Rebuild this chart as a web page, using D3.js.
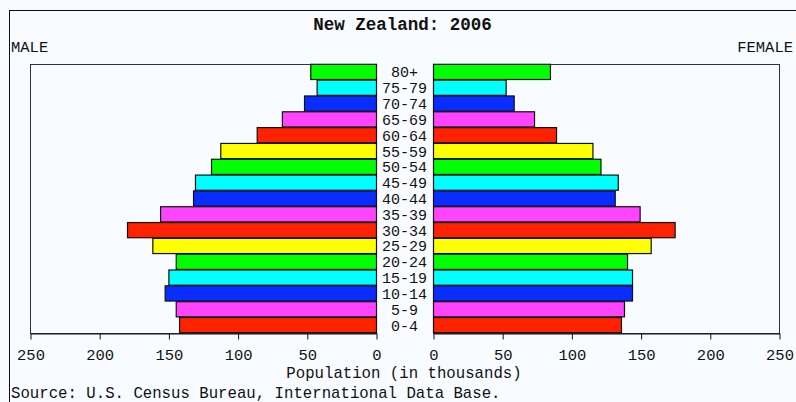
<!DOCTYPE html>
<html>
<head>
<meta charset="utf-8">
<script src="https://cdn.jsdelivr.net/npm/d3@7"></script>
<style>
  html, body { margin: 0; padding: 0; background: #f8fbff; }
  svg { display: block; }
  text { font-family: "Liberation Mono", "DejaVu Sans Mono", monospace; fill: #111; }
</style>
</head>
<body>
<svg id="chart" width="796" height="402"></svg>
<script>
const ageGroups = ["80+","75-79","70-74","65-69","60-64","55-59","50-54","45-49","40-44","35-39","30-34","25-29","20-24","15-19","10-14","5-9","0-4"];
const maleValues = [47.5, 42.9, 52, 68, 86.2, 112.5, 119.2, 130.8, 132.2, 156, 179.9, 161.6, 144.7, 150, 152.7, 144.7, 142.3];
const femaleValues = [84.5, 52.5, 58.3, 73, 88.9, 115.2, 121, 133.5, 131.3, 149.3, 174.6, 157.3, 140.2, 143.8, 143.8, 138, 135.8];
const tickValues = [0, 50, 100, 150, 200, 250];
const barColors = ["#00ff00","#00ffff","#0a2dff","#ff44ff","#ff2200","#ffff00"];
const titleText = "New Zealand: 2006";
const xTitle = "Population (in thousands)";
const sourceText = "Source: U.S. Census Bureau, International Data Base.";

const svg = d3.select("#chart");

// outer frame (extends beyond right/bottom edges)
svg.append("rect").attr("x", 9.5).attr("y", 10.5).attr("width", 800).attr("height", 400)
  .attr("fill", "none").attr("stroke", "#111").attr("stroke-width", 1);

const plotTop = 64, plotBottom = 333;
const y = d3.scaleBand().domain(ageGroups).range([plotTop, plotBottom]).paddingInner(0.04).paddingOuter(0.02);
const xL = d3.scaleLinear().domain([0, 250]).range([376.5, 30.5]);
const xR = d3.scaleLinear().domain([0, 250]).range([433.5, 779.5]);

// plot frames
[[30.5, 376.5],[433.5, 779.5]].forEach(([a,b]) => {
  svg.append("rect").attr("x", a).attr("y", plotTop + 0.5).attr("width", b - a).attr("height", plotBottom - plotTop)
    .attr("fill", "none").attr("stroke", "#333").attr("stroke-width", 1);
});

const colorOf = (i) => barColors[i % barColors.length];

svg.append("g").selectAll("rect").data(maleValues).join("rect")
  .attr("x", d => xL(d)).attr("y", (d,i) => y(ageGroups[i]))
  .attr("width", d => xL(0) - xL(d)).attr("height", y.bandwidth())
  .attr("fill", (d,i) => colorOf(i)).attr("stroke", "#111").attr("stroke-width", 1.2);

svg.append("g").selectAll("rect").data(femaleValues).join("rect")
  .attr("x", xR(0)).attr("y", (d,i) => y(ageGroups[i]))
  .attr("width", d => xR(d) - xR(0)).attr("height", y.bandwidth())
  .attr("fill", (d,i) => colorOf(i)).attr("stroke", "#111").attr("stroke-width", 1.2);

// age labels
svg.append("g").selectAll("text").data(ageGroups).join("text")
  .attr("x", 404.5).attr("y", d => y(d) + y.bandwidth()/2 + 5.5)
  .attr("text-anchor", "middle").attr("font-size", 15).text(d => d);

// axes
function styleAxis(g) {
  g.select(".domain").attr("stroke", "#111");
  g.selectAll(".tick line").attr("stroke", "#111");
  g.selectAll(".tick text").attr("font-family", "Liberation Mono, monospace").attr("font-size", 15.5).attr("fill", "#111").attr("dy", "1em");
}
svg.append("g").attr("transform", `translate(0,${plotBottom + 0.5})`)
  .call(d3.axisBottom(xL).tickValues(tickValues).tickSize(6).tickSizeOuter(0).tickPadding(5))
  .call(styleAxis);
svg.append("g").attr("transform", `translate(0,${plotBottom + 0.5})`)
  .call(d3.axisBottom(xR).tickValues(tickValues).tickSize(6).tickSizeOuter(0).tickPadding(5))
  .call(styleAxis);

// texts
svg.append("text").attr("x", 402.5).attr("y", 30).attr("text-anchor", "middle")
  .attr("font-size", 17.5).attr("font-weight", "bold").text(titleText);
svg.append("text").attr("x", 11).attr("y", 52).attr("font-size", 15.5).text("MALE");
svg.append("text").attr("x", 793).attr("y", 52).attr("text-anchor", "end").attr("font-size", 15.5).text("FEMALE");
svg.append("text").attr("x", 404).attr("y", 378).attr("text-anchor", "middle").attr("font-size", 15.7).text(xTitle);
svg.append("text").attr("x", 11).attr("y", 398).attr("font-size", 15.7).text(sourceText);
</script>
</body>
</html>
